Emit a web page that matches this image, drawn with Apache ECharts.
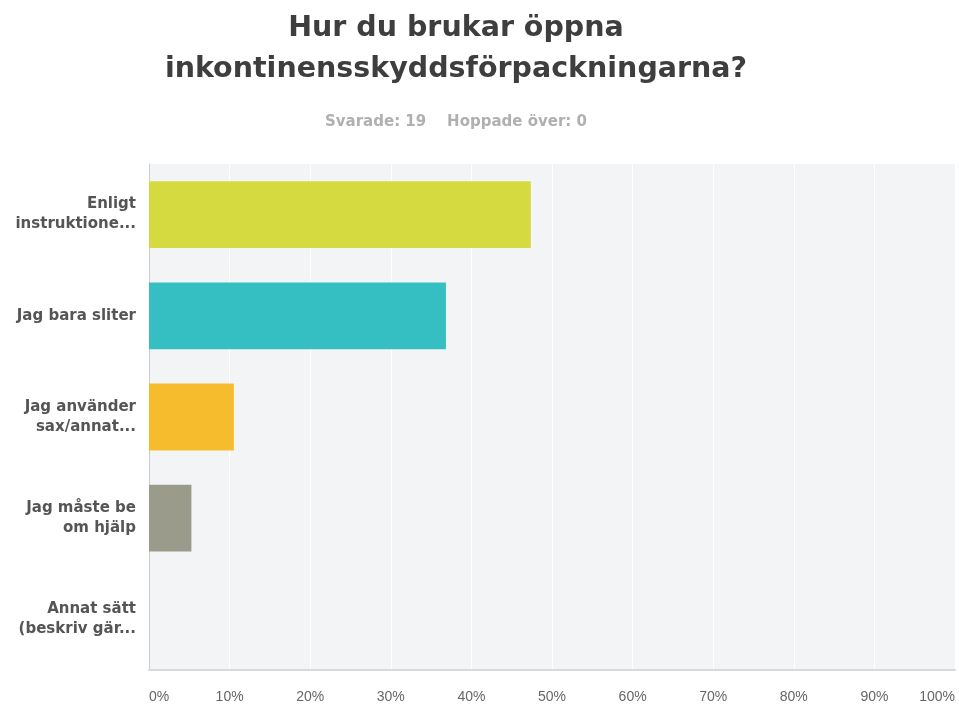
<!DOCTYPE html>
<html><head><meta charset="utf-8">
<script src="https://cdn.jsdelivr.net/npm/echarts@6/dist/echarts.min.js"></script>
<style>html,body{margin:0;padding:0;background:#fff}#c{width:959px;height:712px}</style>
</head><body><div id="c"></div>
<script>
const categories = ["Enligt\ninstruktione...", "Jag bara sliter", "Jag använder\nsax/annat...", "Jag måste be\nom hjälp", "Annat sätt\n(beskriv gär..."];
const values = [47.37, 36.84, 10.53, 5.26, 0];
const colors = ["#d5da40", "#35bfc2", "#f7bb2e", "#9b9b8b", "#a3c16f"];
const titleText = "Hur du brukar öppna\ninkontinensskyddsförpackningarna?";
const subText = "Svarade: 19    Hoppade över: 0";

const chart = echarts.init(document.getElementById('c'));
chart.setOption({
  animation: false,
  title: {
    text: titleText,
    subtext: subText,
    left: 456,
    textAlign: 'center',
    top: 8,
    padding: 0,
    itemGap: 25,
    textStyle: {fontFamily: 'DejaVu Sans, sans-serif', fontSize: 28.5, fontWeight: 'bold', color: '#3e3e3e', lineHeight: 41},
    subtextStyle: {fontFamily: 'DejaVu Sans, sans-serif', fontSize: 15, fontWeight: 'bold', color: '#b0b0b0'}
  },
  grid: {left: 149, right: 4, top: 164, bottom: 42, show: true, backgroundColor: '#f3f4f6', borderWidth: 0},
  xAxis: {
    type: 'value', min: 0, max: 100, interval: 10,
    axisLine: {show: true, lineStyle: {color: '#d9d9d9', width: 2}},
    axisTick: {show: false},
    splitLine: {show: true, lineStyle: {color: '#ffffff', width: 1}},
    axisLabel: {formatter: '{value}%', color: '#666', fontSize: 14, margin: 20,
      fontFamily: 'Liberation Sans, Arial, sans-serif', alignMinLabel: 'left', alignMaxLabel: 'right'}
  },
  yAxis: {
    type: 'category', data: categories, inverse: true,
    axisLine: {show: true, lineStyle: {color: '#cccccc', width: 1}},
    axisTick: {show: false},
    axisLabel: {color: '#555', fontSize: 15, fontWeight: 'bold', margin: 13, lineHeight: 20,
      fontFamily: 'DejaVu Sans, sans-serif', align: 'right'}
  },
  series: [{
    type: 'bar',
    data: values.map((v, i) => ({value: v, itemStyle: {color: colors[i]}})),
    barWidth: '66%'
  }]
});
</script></body></html>
